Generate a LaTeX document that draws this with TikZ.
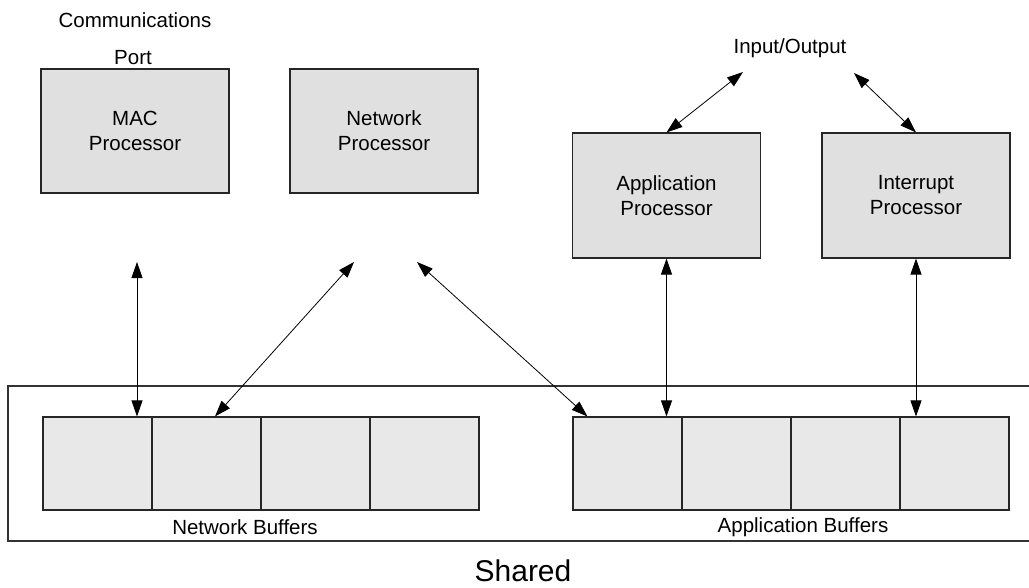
\documentclass[tikz,border=0pt]{standalone}
\usepackage{fontspec}
\setmainfont{Liberation Sans}
\usetikzlibrary{arrows.meta,calc}
\begin{document}
\begin{tikzpicture}[x=1pt,y=-1pt,
  proc/.style={draw=black!85,line width=1.1pt,fill=black!12,inner sep=0pt,
    minimum width=188pt,minimum height=124pt,align=center,
    font=\fontsize{20.5}{25}\selectfont},
  cell/.style={draw=black!85,line width=1.1pt,fill=black!9,inner sep=0pt,
    minimum width=109pt,minimum height=93pt},
  lbl/.style={inner sep=0pt,font=\fontsize{20.5}{25}\selectfont},
  link/.style={line width=0.8pt,{Triangle[length=16pt,width=11pt]}-{Triangle[length=16pt,width=11pt]}}]
\useasboundingbox (0,0) rectangle (1029,587);
\fill[white] (0,0) rectangle (1029,587);
% shared memory frame
\draw[line width=1.1pt,draw=black!80] (1029,386) -- (8,386) -- (8,541) -- (1029,541);
% processors
\node[proc] (mac) at (135,131) {MAC\\Processor};
\node[proc] (net) at (384,131) {Network\\Processor};
\node[proc,minimum height=125pt] (app) at (666.5,195.5) {Application\\Processor};
\node[proc,minimum height=125pt] (int) at (916,195.5) {Interrupt\\Processor};
% buffers
\node[cell] (n1) at (97.5,463.5) {};
\node[cell] (n2) at (206.5,463.5) {};
\node[cell] (n3) at (315.5,463.5) {};
\node[cell] (n4) at (424.5,463.5) {};
\node[cell] (b1) at (627.5,463.5) {};
\node[cell] (b2) at (736.5,463.5) {};
\node[cell] (b3) at (845.5,463.5) {};
\node[cell] (b4) at (954.5,463.5) {};
% labels
\node[lbl] (comm) at (135,20) {Communications};
\node[lbl] (port) at (133,58) {Port};
\node[lbl] (io) at (790,48) {Input/Output};
\node[lbl] (nbl) at (245,527) {Network Buffers};
\node[lbl] (abl) at (803,527) {Application Buffers};
\node[inner sep=0pt,anchor=base,font=\fontsize{30}{36}\selectfont] (shared) at (523,581) {Shared};
% free ends
\coordinate (macfree) at (137,262);
\coordinate (netfreeA) at (354,262);
\coordinate (netfreeB) at (417,262);
\coordinate (ioL) at (743,72);
\coordinate (ioR) at (854,73);
% connectors
\draw[link] (macfree) -- (macfree |- n1.north);
\draw[link] (netfreeA) -- ([xshift=8.5pt]n2.north);
\draw[link] (netfreeB) -- ([xshift=15pt]b1.north west);
\draw[link] (app.south) -- (app.south |- b1.north);
\draw[link] (int.south) -- (int.south |- b4.north);
\draw[link] (ioL) -- (app.north);
\draw[link] (ioR) -- (int.north);
\end{tikzpicture}
\end{document}
